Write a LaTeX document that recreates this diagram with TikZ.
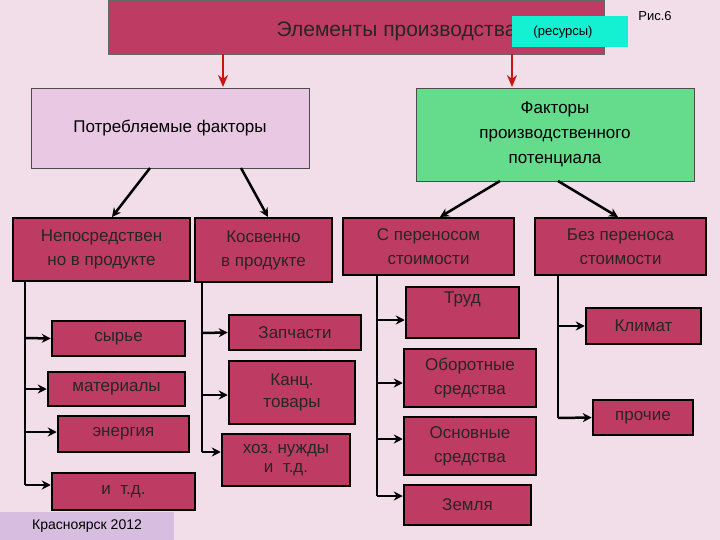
\documentclass[tikz,border=0pt]{standalone}
\usepackage{fontspec}
\setmainfont{Liberation Sans}
\usetikzlibrary{arrows.meta}
\definecolor{bg}{RGB}{242,222,232}
\definecolor{crim}{RGB}{190,60,100}
\definecolor{lpink}{RGB}{232,200,226}
\definecolor{grn}{RGB}{100,220,140}
\definecolor{cyan2}{RGB}{20,240,210}
\definecolor{lav}{RGB}{215,190,225}
\definecolor{darkred}{RGB}{200,20,20}
\tikzset{
 bx/.style={draw=black,line width=2.5pt,fill=crim,inner sep=0pt,align=center,font=\fontsize{17}{19}\selectfont,text=black!85},
 conn/.style={line width=2.5pt,-{Stealth[length=9pt,width=9pt]}},
 rconn/.style={line width=2.5pt,darkred,-{Stealth[length=12pt,width=10pt]}},
 lin/.style={line width=2.5pt}
}
\newcommand{\bxat}[6]{\node[#6,minimum width=#4-#2,minimum height=#5-#3] (#1) at ({(#2+#4)/2},{(#3+#5)/2}) {};}
\begin{document}
\begin{tikzpicture}[x=1pt,y=-1pt]
\fill[bg] (0,0) rectangle (720,540);
\useasboundingbox (0,0) rectangle (720,540);
% top
\node[draw=black!60,line width=0.8pt,fill=crim,minimum width=496,minimum height=54,inner sep=0] (top) at (356,27) {};
\node[font=\fontsize{21}{23}\selectfont,text=black!85,anchor=east] (toptxt) at (520,31) {Элементы производства};
\node[fill=cyan2,minimum width=116,minimum height=31,inner sep=0,font=\fontsize{13}{15}\selectfont] (res) at (570,32) {\hspace{-14pt}(ресурсы)};
\node[font=\fontsize{13}{15}\selectfont] (ris) at (655,16) {Рис.6};
% level 1
\node[draw=black!70,line width=0.8pt,fill=lpink,minimum width=278,minimum height=80,inner sep=0,font=\fontsize{17}{19}\selectfont] (potr) at (170,128) {Потребляемые факторы};
\node[draw=black!70,line width=0.8pt,fill=grn,minimum width=278,minimum height=93,inner sep=0,align=center,font=\fontsize{17}{25}\selectfont] (fpp) at (555,134.5) {Факторы\\производственного\\потенциала};
\draw[rconn] (223,54) -- (223,87);
\draw[rconn] (512,54) -- (512,87);
% level 2
\node[bx,minimum width=177,minimum height=63,font=\fontsize{17}{24}\selectfont] (nep) at (101.5,249.5) {Непосредствен\\но в продукте};
\node[bx,minimum width=137,minimum height=64,font=\fontsize{17}{24}\selectfont] (kos) at (263.5,250) {Косвенно\\в продукте};
\node[bx,minimum width=171,minimum height=57,font=\fontsize{17}{24}\selectfont] (sper) at (428.5,246.5) {С переносом\\стоимости};
\node[bx,minimum width=171,minimum height=57,font=\fontsize{17}{24}\selectfont] (bper) at (620.5,246.5) {Без переноса\\стоимости};
\draw[conn] (150,168) -- (112,217);
\draw[conn] (241,168) -- (268,217);
\draw[conn] (500,181) -- (440,217);
\draw[conn] (558,181) -- (618,217);
% col 1
\node[bx,minimum width=133,minimum height=35] (syr) at (118.5,338.5) {сырье};
\node[bx,minimum width=137,minimum height=34] (mat) at (116.5,389) {материалы};
\node[bx,minimum width=131,minimum height=36] (ener) at (123.5,434) {энергия};
\node[bx,minimum width=143,minimum height=37] (itd) at (123.5,491.5) {и\ \ т.д.};
\coordinate (t1) at (25,281);
\draw[lin] (t1) -- (25,485);
\draw[conn] (25,338) -- (syr.west);
\draw[conn] (25,389) -- (mat.west);
\draw[conn] (25,432) -- (ener.west|-25,432);
\draw[conn] (25,485) -- (itd.west|-25,485);
% col 2
\node[bx,minimum width=132,minimum height=35] (zap) at (295,332.5) {Запчасти};
\node[bx,minimum width=126,minimum height=63,font=\fontsize{17}{22}\selectfont] (kanc) at (292,392.5) {Канц.\\товары};
\node[bx,minimum width=128,minimum height=52,font=\fontsize{17}{19}\selectfont] (hoz) at (286,460) {хоз.\ нужды\\и\ \ т.д.};
\draw[lin] (202,282) -- (202,452);
\draw[conn] (202,333) -- (zap.west);
\draw[conn] (202,395) -- (kanc.west|-202,395);
\draw[conn] (202,452) -- (hoz.west|-202,452);
% col 3
\node[bx,minimum width=113,minimum height=51] (trud) at (462.5,312.5) {Труд\\[10pt]};
\node[bx,minimum width=132,minimum height=58,font=\fontsize{17}{24}\selectfont] (obor) at (470,378) {Оборотные\\средства};
\node[bx,minimum width=132,minimum height=58,font=\fontsize{17}{24}\selectfont] (osn) at (470,446) {Основные\\средства};
\node[bx,minimum width=127,minimum height=40] (zem) at (467.5,505) {Земля};
\draw[lin] (377,275) -- (377,496);
\draw[conn] (377,320) -- (trud.west|-377,320);
\draw[conn] (377,383) -- (obor.west|-377,383);
\draw[conn] (377,439) -- (osn.west|-377,439);
\draw[conn] (377,496) -- (zem.west|-377,496);
% col 4
\node[bx,minimum width=115,minimum height=36] (klim) at (643.5,326) {Климат};
\node[bx,minimum width=100,minimum height=35] (proch) at (643,417.5) {прочие};
\draw[lin] (558,275) -- (558,418);
\draw[conn] (558,326) -- (klim.west);
\draw[conn] (558,418) -- (proch.west);
% footer
\node[fill=lav,minimum width=174,minimum height=28,inner sep=0,font=\fontsize{14}{16}\selectfont] (kr) at (87,526) {Красноярск 2012};
\end{tikzpicture}
\end{document}
